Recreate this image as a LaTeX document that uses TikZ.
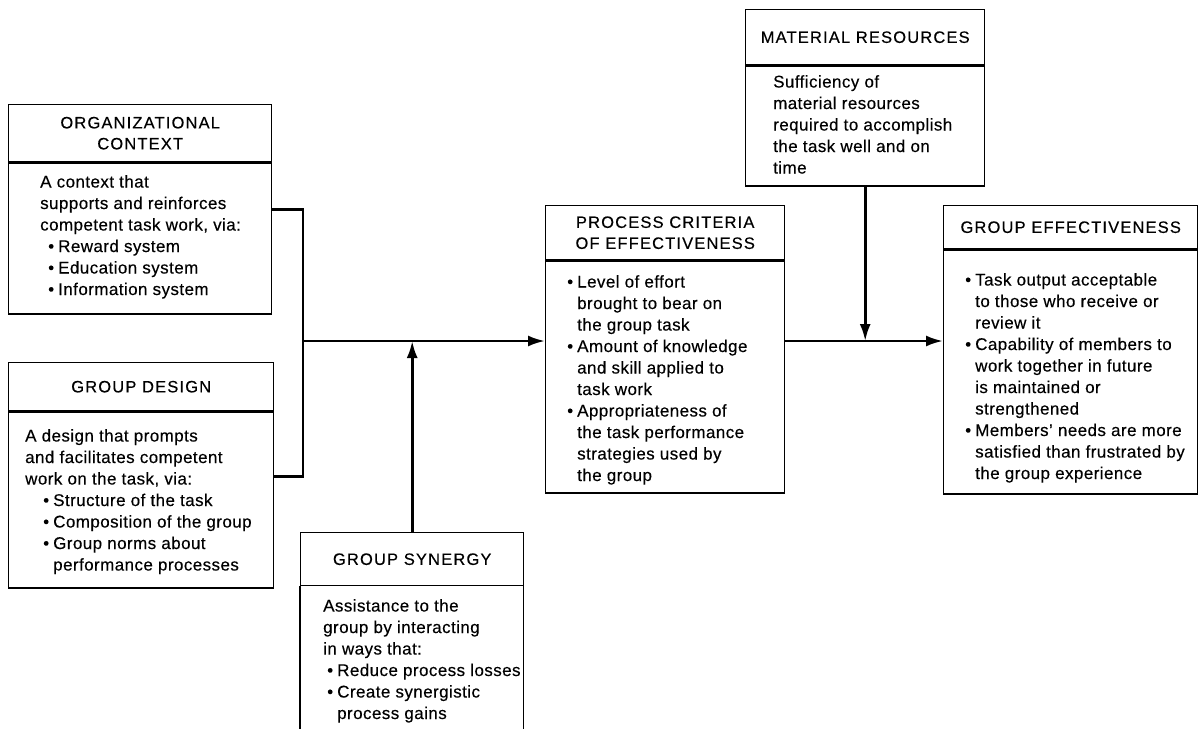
\documentclass[tikz,border=0pt]{standalone}
\usepackage{fontspec}
\setmainfont{Liberation Sans}
\usetikzlibrary{arrows.meta}

% text styles for box titles and box contents
\newcommand\hdfont{\fontsize{16.5}{21}\selectfont\addfontfeature{LetterSpace=7,FakeBold=0.3}}
\newcommand\bdfont{\fontsize{17}{21.5}\selectfont\addfontfeature{LetterSpace=2.5,FakeBold=0.3}}
% a bullet followed by its item text
\newcommand\bl{\makebox[10pt][l]{\textbullet}}

\begin{document}
\begin{tikzpicture}[x=1pt,y=-1pt,
  frame/.style={draw, line width=1.4pt, inner sep=0pt, anchor=north west},
  head/.style={frame, align=center, font=\hdfont},
  body/.style={inner sep=0pt, anchor=north west, align=left, font=\bdfont},
  link/.style={line width=2.6pt},
  flow/.style={link, -{Latex[length=17pt,width=11pt]}}]

\useasboundingbox (0,0) rectangle (1204,728);

% ---- Organizational context
\node[head, minimum width=263pt, minimum height=57pt] (orgH) at (8,104) {ORGANIZATIONAL\\CONTEXT};
\node[frame, minimum width=263pt, minimum height=151pt] (orgB) at (orgH.south west) {};
\node[body] (orgT) at (40,175) {A context that\\supports and reinforces\\competent task work, via:\\
  \hspace*{8pt}\bl Reward system\\\hspace*{8pt}\bl Education system\\\hspace*{8pt}\bl Information system};

% ---- Group design
\node[head, minimum width=265pt, minimum height=48pt] (desH) at (8,362) {GROUP DESIGN};
\node[frame, minimum width=265pt, minimum height=176pt] (desB) at (desH.south west) {};
\node[body] (desT) at (25,429) {A design that prompts\\and facilitates competent\\work on the task, via:\\
  \hspace*{18pt}\bl Structure of the task\\\hspace*{18pt}\bl Composition of the group\\
  \hspace*{18pt}\bl Group norms about\\\hspace*{28pt}performance processes};

% ---- Group synergy (runs off the lower edge)
\node[head, minimum width=223pt, minimum height=53pt] (synH) at (300,532) {GROUP SYNERGY};
\node[inner sep=0pt, anchor=north west, minimum width=223pt, minimum height=150pt] (synB) at (synH.south west) {};
\draw[line width=1.4pt] (synB.south west) -- (synB.north west) (synB.north east) -- (synB.south east);
\node[body] (synT) at (323,599) {Assistance to the\\group by interacting\\in ways that:\\
  \hspace*{4pt}\bl Reduce process losses\\\hspace*{4pt}\bl Create synergistic\\\hspace*{14pt}process gains};

% ---- Process criteria of effectiveness
\node[head, minimum width=239pt, minimum height=54pt] (procH) at (545,205) {PROCESS CRITERIA\\OF EFFECTIVENESS};
\node[frame, minimum width=239pt, minimum height=232pt] (procB) at (procH.south west) {};
\node[body] (procT) at (567,275) {\bl Level of effort\\\hspace*{10pt}brought to bear on\\\hspace*{10pt}the group task\\
  \bl Amount of knowledge\\\hspace*{10pt}and skill applied to\\\hspace*{10pt}task work\\
  \bl Appropriateness of\\\hspace*{10pt}the task performance\\\hspace*{10pt}strategies used by\\\hspace*{10pt}the group};

% ---- Material resources
\node[head, minimum width=239pt, minimum height=55pt] (matH) at (745,9) {MATERIAL RESOURCES};
\node[frame, minimum width=239pt, minimum height=120pt] (matB) at (matH.south west) {};
\node[body] (matT) at (773,75) {Sufficiency of\\material resources\\required to accomplish\\the task well and on\\time};

% ---- Group effectiveness
\node[head, minimum width=254pt, minimum height=43pt] (effH) at (943,205) {GROUP EFFECTIVENESS};
\node[frame, minimum width=254pt, minimum height=244pt] (effB) at (effH.south west) {};
\node[body] (effT) at (965,273) {\bl Task output acceptable\\\hspace*{10pt}to those who receive or\\\hspace*{10pt}review it\\
  \bl Capability of members to\\\hspace*{10pt}work together in future\\\hspace*{10pt}is maintained or\\\hspace*{10pt}strengthened\\
  \bl Members’ needs are more\\\hspace*{10pt}satisfied than frustrated by\\\hspace*{10pt}the group experience};

% ---- Connectors
\coordinate (jL) at (303,341);
\draw[link] ([yshift=-47pt]orgB.north east) -| (jL);
\draw[link] ([yshift=-65pt]desB.north east) -| (jL);
\draw[flow] (jL) -- (procB.west |- jL);
\draw[flow] (synH.north) -- (synH.north |- jL);
\draw[flow] (matB.south) -- (matB.south |- jL);
\draw[flow] (procB.east |- jL) -- (effB.west |- jL);
\end{tikzpicture}
\end{document}
